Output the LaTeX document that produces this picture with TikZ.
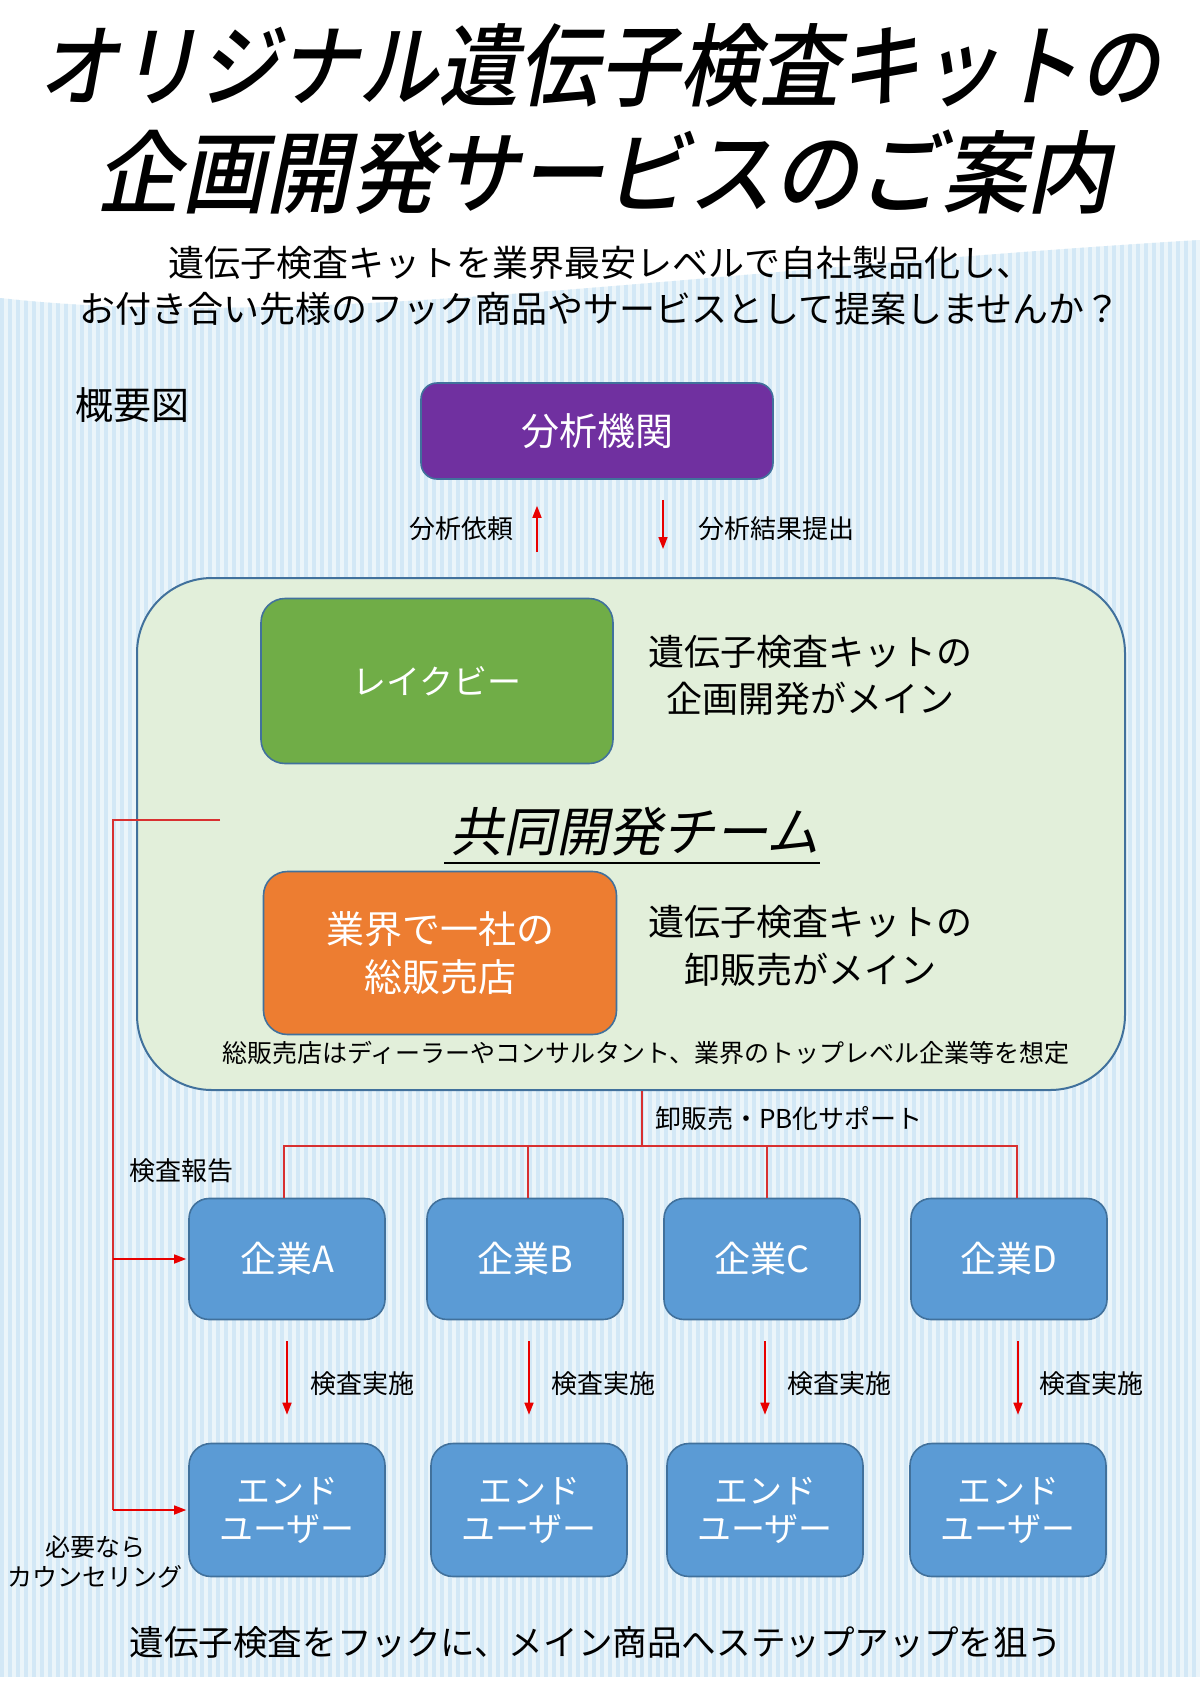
\documentclass[tikz,border=0pt]{standalone}
\usepackage{fontspec}
\usepackage{graphicx}
\setmainfont{Noto Sans CJK JP}
\newfontfamily\titlefont[FakeSlant=0.22]{Noto Sans CJK JP Medium}
\newfontfamily\slantfont[FakeSlant=0.2]{Noto Sans CJK JP}
\usetikzlibrary{arrows.meta,calc}
\definecolor{stripeA}{HTML}{D3E8F6}
\definecolor{stripeB}{HTML}{EBF5FA}
\definecolor{purp}{HTML}{7030A0}
\definecolor{grn}{HTML}{70AD47}
\definecolor{org}{HTML}{ED7D31}
\definecolor{blu}{HTML}{5B9BD5}
\definecolor{bord}{HTML}{41719C}
\definecolor{panelfill}{HTML}{E2EFDA}
\definecolor{arrred}{HTML}{E80000}
\definecolor{linered}{HTML}{D83030}
\newcommand{\fs}[2]{\fontsize{#1}{#2}\selectfont}
\begin{document}
\begin{tikzpicture}[x=1pt,y=-1pt,
  box/.style={draw=bord, line width=1.6pt, text=white, align=center, inner sep=0pt},
  lab/.style={inner sep=0pt, align=center, text=black},
  redarrow/.style={draw=arrred, line width=1.6pt, -{Triangle[length=12pt,width=9pt]}},
  thinred/.style={draw=linered, line width=1.2pt},
  tiparrow/.style={draw=arrred, line width=1.6pt, -{Triangle[length=12pt,width=9pt]}},
  cobox/.style={box, fill=blu, rounded corners=20pt, minimum width=196pt, minimum height=121pt, font=\fs{36}{42}},
  eubox/.style={box, fill=blu, rounded corners=22pt, minimum width=196pt, minimum height=133pt, font=\fs{34}{38}},
  small/.style={lab, font=\fs{26}{30}}
]
\useasboundingbox (0,0) rectangle (1200,1684);
\fill[white] (0,0) rectangle (1200,1684);
% striped background
\begin{scope}
  \clip (0,298) .. controls (300,332) and (700,270) .. (1200,240) -- (1200,1677) -- (0,1677) -- cycle;
  \fill[stripeB] (0,230) rectangle (1200,1677);
  \foreach \i in {0,...,149} { \fill[stripeA] (\i*8,230) rectangle (\i*8+4,1677); }
\end{scope}

% title
\node[lab, font=\titlefont\fs{90}{100}] (title1) at (599,66) {\scalebox{0.89}[1]{オリジナル遺伝子検査キットの}};
\node[lab, font=\titlefont\fs{90}{100}] (title2) at (604,172) {\scalebox{0.94}[1]{企画開発サービスのご案内}};
\node[lab, font=\fs{36}{46}] (sub) at (600,286) {遺伝子検査キットを業界最安レベルで自社製品化し、\\お付き合い先様のフック商品やサービスとして提案しませんか？};
\node[lab, font=\fs{38}{42}, anchor=west] (gaiyo) at (75,405) {概要図};

% analysis lab
\node[box, fill=purp, rounded corners=16pt, minimum width=352pt, minimum height=96pt, font=\fs{38}{44}] (bunseki) at (597,431) {分析機関};

% team panel
\node[draw=bord, line width=2pt, fill=panelfill, rounded corners=75pt, minimum width=988pt, minimum height=512pt, inner sep=0pt] (team) at (631,834) {};
\node[box, fill=grn, rounded corners=24pt, minimum width=352pt, minimum height=165pt, font=\fs{34}{40}] (lakebe) at (437,681) {レイクビー};
\node[lab, font=\fs{36}{47}] (desc1) at (810,675) {遺伝子検査キットの\\企画開発がメイン};
\node[lab, font=\slantfont\fs{53}{60}] (teamlbl) at (635,832) {共同開発チーム};
\draw[black, line width=1.8pt] ($(teamlbl.south west)+(-6,6)$) -- ($(teamlbl.south east)+(0,6)$);
\node[box, fill=org, rounded corners=24pt, minimum width=353pt, minimum height=163pt, font=\fs{38}{48}] (agent) at (440,953) {業界で一社の\\総販売店};
\node[lab, font=\fs{36}{48}] (desc2) at (810,946) {遺伝子検査キットの\\卸販売がメイン};
\node[lab, font=\fs{25}{28}] (note) at (646,1053) {総販売店はディーラーやコンサルタント、業界のトップレベル企業等を想定};

% arrows between lab and team
\draw[redarrow] ($(team.north)+(-94,-25)$) -- ($(bunseki.south)+(-60,26)$);
\draw[redarrow] ($(bunseki.south)+(66,20)$) -- ($(team.north)+(32,-28)$);
\node[small] (req) at (461,529) {分析依頼};
\node[small] (res) at (776,529) {分析結果提出};

% companies
\node[cobox] (coA) at (287,1259) {企業A};
\node[cobox] (coB) at (525,1259) {企業B};
\node[cobox] (coC) at (762,1259) {企業C};
\node[cobox] (coD) at (1009,1259) {企業D};

% end users
\node[eubox] (euA) at (287,1510) {エンド\\ユーザー};
\node[eubox] (euB) at (529,1510) {エンド\\ユーザー};
\node[eubox] (euC) at (765,1510) {エンド\\ユーザー};
\node[eubox] (euD) at (1008,1510) {エンド\\ユーザー};

% distribution tree
\coordinate (dtop) at ($(team.south)+(11,0)$);
\coordinate (dmid) at ($(dtop)+(0,55)$);
\coordinate (jA) at ($(coA.north)+(-3,0)$);
\coordinate (jB) at ($(coB.north)+(3,0)$);
\coordinate (jC) at ($(coC.north)+(5,0)$);
\coordinate (jD) at ($(coD.north)+(8,0)$);
\draw[thinred] (dtop) -- (dmid);
\draw[thinred] (jA) |- (dmid) -| (jD);
\draw[thinred] (jB) -- (jB |- dmid);
\draw[thinred] (jC) -- (jC |- dmid);
\node[small, anchor=west] (whole) at (655,1119) {卸販売・PB化サポート};

% report line
\coordinate (rs) at (220,820);
\coordinate (rc) at (113,820);
\draw[thinred] (rs) -- (rc) -- (rc |- euA.west);
\draw[tiparrow] (rc |- coA.west) -- ($(coA.west)+(-2,0)$);
\draw[tiparrow] (rc |- euA.west) -- ($(euA.west)+(-2,0)$);
\node[small, anchor=west] (report) at (129,1171) {検査報告};
\node[lab, font=\fs{25}{30}] (counsel) at (95,1562) {必要なら\\カウンセリング};

% test arrows
\draw[redarrow] ($(coA.south)+(0,21)$) -- ($(euA.north)+(0,-28)$);
\draw[redarrow] ($(coB.south)+(4,21)$) -- ($(euB.north)+(0,-28)$);
\draw[redarrow] ($(coC.south)+(3,21)$) -- ($(euC.north)+(0,-28)$);
\draw[redarrow] ($(coD.south)+(9,21)$) -- ($(euD.north)+(10,-28)$);
\node[small, anchor=west] (tA) at (310,1384) {検査実施};
\node[small, anchor=west] (tB) at (551,1384) {検査実施};
\node[small, anchor=west] (tC) at (787,1384) {検査実施};
\node[small, anchor=west] (tD) at (1039,1384) {検査実施};

% bottom
\node[lab, font=\fs{34.6}{42}] (bottom) at (596,1642) {遺伝子検査をフックに、メイン商品へステップアップを狙う};
\end{tikzpicture}
\end{document}
